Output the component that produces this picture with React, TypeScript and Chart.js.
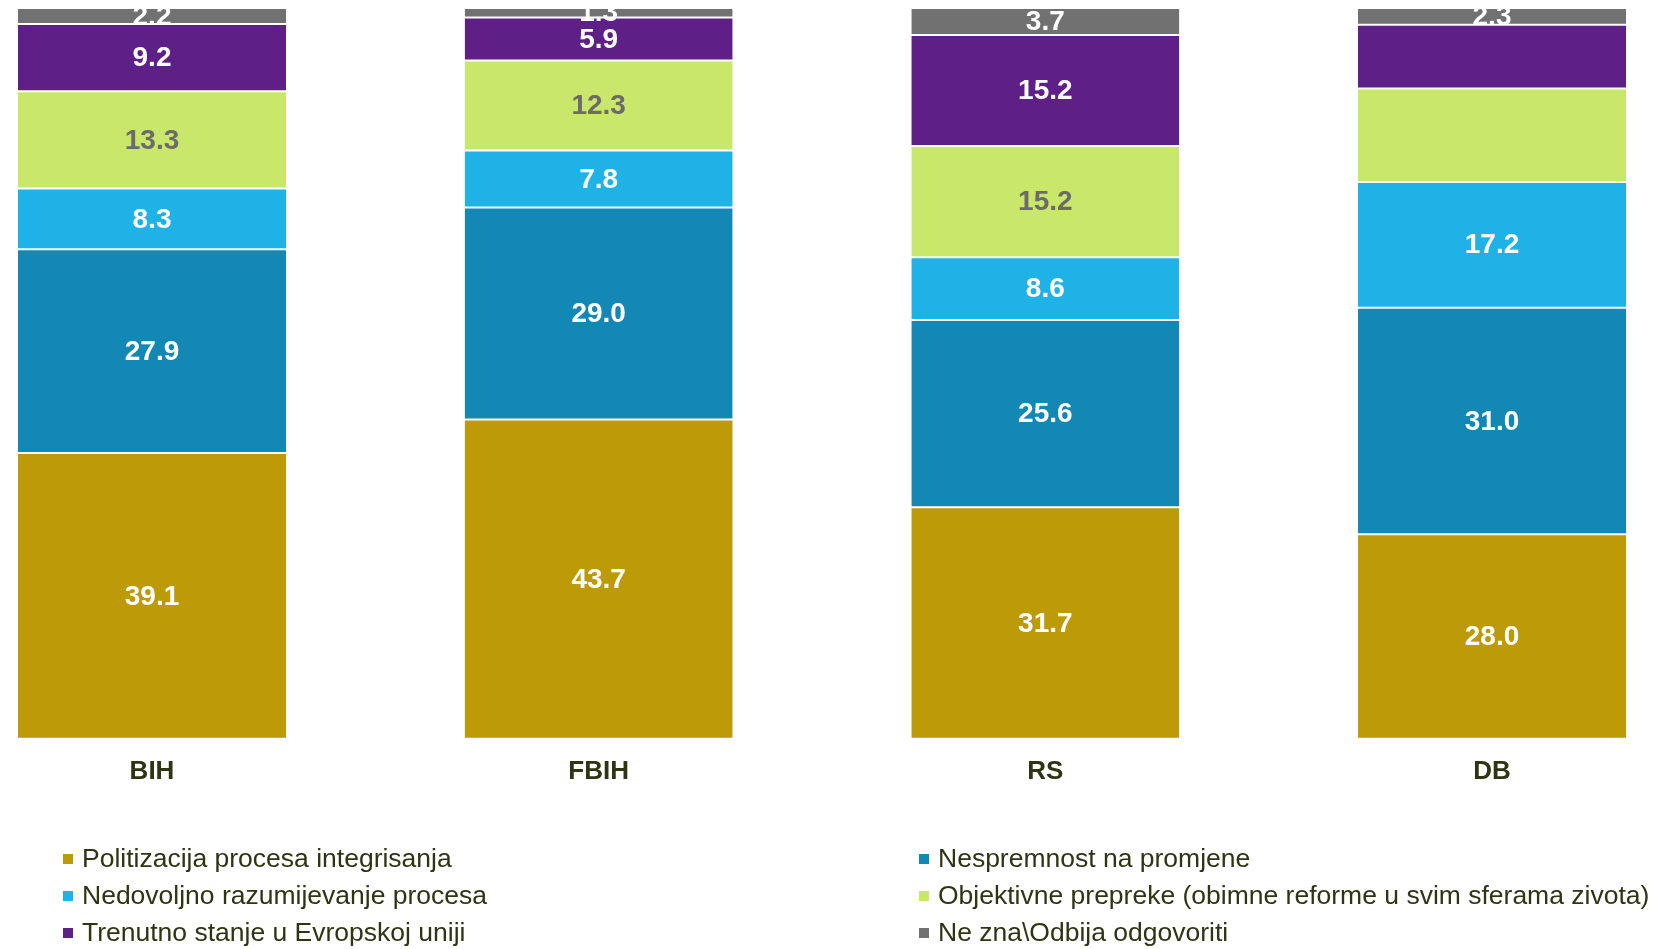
import React, { useEffect, useRef } from 'react';
import { Chart, registerables } from 'chart.js';

Chart.register(...registerables);

const categories = ['BIH', 'FBIH', 'RS', 'DB'];

const seriesNames = [
  'Politizacija procesa integrisanja',
  'Nespremnost na promjene',
  'Nedovoljno razumijevanje procesa',
  'Objektivne prepreke (obimne reforme u svim sferama zivota)',
  'Trenutno stanje u Evropskoj uniji',
  'Ne zna\\Odbija odgovoriti',
];

const politizacija = [39.1, 43.7, 31.7, 28.0];
const nespremnost = [27.9, 29.0, 25.6, 31.0];
const nedovoljno = [8.3, 7.8, 8.6, 17.2];
const objektivne = [13.3, 12.3, 15.2, 12.8];
const trenutno = [9.2, 5.9, 15.2, 8.7];
const neZna = [2.2, 1.3, 3.7, 2.3];

const seriesValues = [politizacija, nespremnost, nedovoljno, objektivne, trenutno, neZna];
const seriesColors = ['#bd9a08', '#1488b5', '#1fb2e7', '#c9e76b', '#5e1f86', '#717171'];
const labelColors = ['#ffffff', '#ffffff', '#ffffff', '#6b6b6b', '#ffffff', '#ffffff'];

// segments whose value label is not printed in the original
const unlabelled = [
  { series: 3, category: 'DB' },
  { series: 4, category: 'DB' },
];

const FONT = '"Liberation Sans", Arial, Helvetica, sans-serif';
const TEXT_COLOR = '#2f3413';

const valueLabels = {
  id: 'valueLabels',
  afterDatasetsDraw(chart: any) {
    const ctx = chart.ctx;
    ctx.save();
    ctx.font = `bold 28px ${FONT}`;
    ctx.textAlign = 'center';
    ctx.textBaseline = 'middle';
    chart.data.datasets.forEach((ds: any, di: number) => {
      const meta = chart.getDatasetMeta(di);
      meta.data.forEach((el: any, i: number) => {
        const cat = chart.data.labels[i];
        if (unlabelled.some((u) => u.series === di && u.category === cat)) return;
        const { x, y, base } = el.getProps(['x', 'y', 'base'], true);
        ctx.fillStyle = labelColors[di];
        ctx.fillText(Number(ds.data[i]).toFixed(1), x, (y + base) / 2 + 1);
      });
    });
    ctx.restore();
  },
};

const gridLegend = {
  id: 'gridLegend',
  afterDraw(chart: any) {
    const ctx = chart.ctx;
    ctx.save();
    ctx.font = `26.5px ${FONT}`;
    ctx.textAlign = 'left';
    ctx.textBaseline = 'alphabetic';
    const colX = [55, 911];
    const rowBase = [859, 896, 933];
    chart.data.datasets.forEach((ds: any, i: number) => {
      const col = i % 2;
      const row = Math.floor(i / 2);
      const x = colX[col];
      const yb = rowBase[row];
      ctx.fillStyle = ds.backgroundColor;
      ctx.fillRect(x, yb - 13, 10, 10);
      ctx.fillStyle = TEXT_COLOR;
      ctx.fillText(ds.label, x + 19, yb);
    });
    ctx.restore();
  },
};

export default function App() {
  const canvasRef = useRef<HTMLCanvasElement | null>(null);

  useEffect(() => {
    if (!canvasRef.current) return;
    const chart = new Chart(canvasRef.current, {
      type: 'bar',
      data: {
        labels: categories,
        datasets: seriesNames.map((name, i) => ({
          label: name,
          data: seriesValues[i],
          backgroundColor: seriesColors[i],
          borderColor: '#ffffff',
          borderWidth: { top: 1, bottom: 1, left: 0, right: 0 },
          borderSkipped: false,
          categoryPercentage: 0.6,
          barPercentage: 1.0,
          clip: false as any,
        })),
      },
      options: {
        animation: false,
        responsive: true,
        maintainAspectRatio: false,
        layout: { padding: { left: 144, right: 173, top: 0, bottom: 145 } },
        plugins: {
          legend: { display: false },
          tooltip: { enabled: false },
          title: { display: false },
        },
        scales: {
          x: {
            stacked: true,
            offset: false,
            grid: { display: false, drawTicks: false },
            border: { display: false },
            ticks: {
              padding: 17,
              color: TEXT_COLOR,
              font: { family: FONT, size: 26, weight: 'bold' },
              maxRotation: 0,
            },
          },
          y: {
            stacked: true,
            display: false,
            min: 0,
            max: 100,
          },
        },
      },
      plugins: [valueLabels, gridLegend],
    });
    return () => chart.destroy();
  }, []);

  return (
    <div style={{ position: 'fixed', left: 8, top: 8, width: 1657, height: 941 }}>
      <canvas ref={canvasRef} />
    </div>
  );
}
